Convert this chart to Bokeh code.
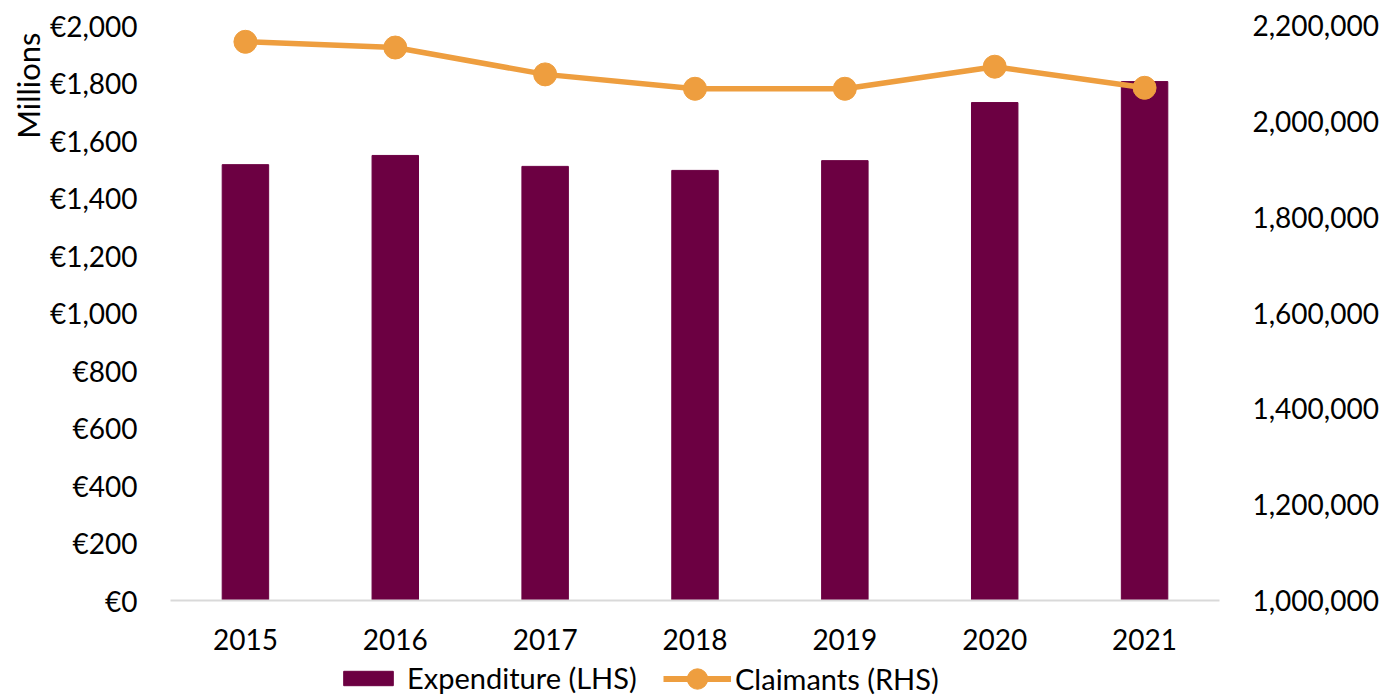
from bokeh.plotting import figure
from bokeh.layouts import column
from bokeh.models import (FactorRange, Range1d, LinearAxis, FixedTicker, Legend,
                          LegendItem, Title, ColumnDataSource)
from bokeh.embed import file_html
from bokeh.resources import INLINE

years = ["2015", "2016", "2017", "2018", "2019", "2020", "2021"]
expenditure = [1516, 1548, 1510, 1496, 1530, 1732, 1805]
claimants = [2166000, 2154000, 2098000, 2068000, 2068000, 2114000, 2070000]

left_ticks = [0, 200, 400, 600, 800, 1000, 1200, 1400, 1600, 1800, 2000]
left_labels = ["€0", "€200", "€400", "€600", "€800", "€1,000", "€1,200", "€1,400",
               "€1,600", "€1,800", "€2,000"]
right_ticks = [1000000, 1200000, 1400000, 1600000, 1800000, 2000000, 2200000]
right_labels = ["1,000,000", "1,200,000", "1,400,000", "1,600,000", "1,800,000",
                "2,000,000", "2,200,000"]
series_names = ["Expenditure (LHS)", "Claimants (RHS)"]

FONT = "Lato"
FS = "28px"
BAR = "#6C0042"
LINE = "#EE9E3F"

src = ColumnDataSource(dict(year=years, exp=expenditure, cl=claimants))

p = figure(width=1383, height=660, x_range=FactorRange(*years),
           y_range=Range1d(0, 2000), output_backend="svg", toolbar_location=None,
           min_border_left=170, min_border_right=164, min_border_top=25,
           min_border_bottom=60)
p.extra_y_ranges = {"right": Range1d(1000000, 2200000)}
p.outline_line_color = None
p.xgrid.grid_line_color = None
p.ygrid.grid_line_color = None

bars = p.vbar(x="year", top="exp", width=0.31, color=BAR, source=src)
ln = p.line(x="year", y="cl", line_width=5.5, color=LINE, y_range_name="right", source=src)
pts = p.scatter(x="year", y="cl", size=23, color=LINE, y_range_name="right", source=src)

# left axis
ya = p.yaxis[0]
ya.ticker = FixedTicker(ticks=left_ticks)
ya.major_label_overrides = {t: l for t, l in zip(left_ticks, left_labels)}
ya.axis_line_color = None
ya.major_tick_line_color = None
ya.minor_tick_line_color = None
ya.major_label_standoff = 27
ya.major_label_text_font = FONT
ya.major_label_text_font_size = FS
ya.major_label_text_color = "#000000"

# right axis
ra = LinearAxis(y_range_name="right", ticker=FixedTicker(ticks=right_ticks))
ra.major_label_overrides = {t: l for t, l in zip(right_ticks, right_labels)}
ra.axis_line_color = None
ra.major_tick_line_color = None
ra.minor_tick_line_color = None
ra.major_label_standoff = 27
ra.major_label_text_font = FONT
ra.major_label_text_font_size = FS
ra.major_label_text_color = "#000000"
p.add_layout(ra, "right")

# x axis
xa = p.xaxis[0]
xa.axis_line_color = "#D9D9D9"
xa.axis_line_width = 2
xa.major_tick_line_color = None
xa.minor_tick_line_color = None
xa.major_label_standoff = 22
xa.major_label_text_font = FONT
xa.major_label_text_font_size = FS
xa.major_label_text_color = "#000000"

# "Millions" label
t = Title(text="Millions", align="right", text_font=FONT, text_font_size="31px",
          text_font_style="normal", text_color="#000000", offset=7, standoff=0)
p.add_layout(t, "left")

# legend strip below the chart (glyph renderers sit outside its visible range)
lf = figure(width=1383, height=35, x_range=Range1d(0, 1), y_range=Range1d(0, 1),
            output_backend="svg", toolbar_location=None, x_axis_type=None,
            y_axis_type=None, min_border=0)
lf.outline_line_color = None
lf.xgrid.grid_line_color = None
lf.ygrid.grid_line_color = None
hidden = ColumnDataSource(dict(x=[-10.0], y=[-10.0]))
lb = lf.vbar(x="x", top="y", width=0.3, color=BAR, source=hidden)
ll = lf.line(x="x", y="y", line_width=6, color=LINE, source=hidden)
lp = lf.scatter(x="x", y="y", size=23, color=LINE, source=hidden)

common = dict(orientation="horizontal", label_text_font=FONT, label_text_font_size="29px",
              label_text_color="#000000", padding=0, margin=0,
              border_line_color=None, background_fill_alpha=0)
legend1 = Legend(items=[LegendItem(label=series_names[0], renderers=[lb])],
                 location=(167, 0), glyph_width=62, glyph_height=18,
                 label_standoff=8, **common)
legend2 = Legend(items=[LegendItem(label=series_names[1], renderers=[ll, lp])],
                 location=(493, -9), glyph_width=68, glyph_height=51,
                 label_standoff=4, **common)
lf.add_layout(legend1)
lf.add_layout(legend2)

layout = column(p, lf, spacing=0)
open("out.html", "w").write(file_html(layout, INLINE))
